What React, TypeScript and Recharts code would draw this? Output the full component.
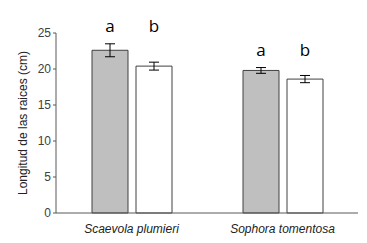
import React from 'react';
import { BarChart, Bar, XAxis, YAxis, ErrorBar, LabelList } from 'recharts';

const species = ['Scaevola plumieri', 'Sophora tomentosa'];
const seriesA = [22.6, 19.8];
const seriesAErr = [0.9, 0.4];
const seriesB = [20.4, 18.6];
const seriesBErr = [0.55, 0.5];
const lettersA = ['a', 'a'];
const lettersB = ['b', 'b'];
const yTicks = [0, 5, 10, 15, 20, 25];

const data = species.map((s, i) => ({
  name: s,
  a: seriesA[i],
  aErr: seriesAErr[i],
  b: seriesB[i],
  bErr: seriesBErr[i],
  la: lettersA[i],
  lb: lettersB[i],
  top: Math.max(seriesA[i] + seriesAErr[i], seriesB[i] + seriesBErr[i]),
}));

const makeLetter = (key: 'a' | 'b') => (props: any) => {
  const { x, y, width, height, index } = props;
  const d = data[index];
  const v = d[key];
  const perUnit = height / v;
  const base = y + height;
  const topY = base - d.top * perUnit;
  return (
    <text
      x={x + width / 2}
      y={topY - 12}
      textAnchor="middle"
      fontSize={17}
      fontFamily="'Open Sans', sans-serif"
      fill="#000"
    >
      {key === 'a' ? d.la : d.lb}
    </text>
  );
};

const XTick = (props: any) => {
  const { x, y, payload } = props;
  return (
    <text x={x} y={y + 12} textAnchor="middle" fontSize={12} fontStyle="italic" fontFamily="'Liberation Sans', Arial, sans-serif" fill="#222">
      {payload.value}
    </text>
  );
};

export default function App() {
  return (
    <div style={{ position: 'absolute', left: 0, top: 0, width: 367, height: 243, background: '#fff' }}>
      <BarChart
        width={367}
        height={243}
        data={data}
        margin={{ top: 33, right: 9, bottom: 0, left: 0 }}
        barCategoryGap={36}
        barGap={8}
      >
        <XAxis
          dataKey="name"
          tickLine={false}
          axisLine={{ stroke: '#595959', strokeWidth: 1 }}
          tick={<XTick />}
          height={30}
          interval={0}
        />
        <YAxis
          width={56}
          domain={[0, 25]}
          ticks={yTicks}
          interval={0}
          tickSize={3}
          tickLine={{ stroke: '#595959' }}
          axisLine={{ stroke: '#595959', strokeWidth: 1 }}
          tick={{ fontSize: 12, fill: '#404040', fontFamily: "'Liberation Sans', Arial, sans-serif" }}
          label={{
            value: 'Longitud de las raices (cm)',
            angle: -90,
            position: 'insideLeft',
            dx: 18,
            dy: 0,
            style: { textAnchor: 'middle', fontSize: 12, fill: '#222', fontFamily: "'Liberation Sans', Arial, sans-serif" },
          }}
        />
        <Bar dataKey="a" fill="#bfbfbf" stroke="#404040" strokeWidth={1} isAnimationActive={false}>
          <ErrorBar dataKey="aErr" width={5} stroke="#000" strokeWidth={1} />
          <LabelList dataKey="la" content={makeLetter('a')} />
        </Bar>
        <Bar dataKey="b" fill="#ffffff" stroke="#404040" strokeWidth={1} isAnimationActive={false}>
          <ErrorBar dataKey="bErr" width={5} stroke="#000" strokeWidth={1} />
          <LabelList dataKey="lb" content={makeLetter('b')} />
        </Bar>
      </BarChart>
    </div>
  );
}
